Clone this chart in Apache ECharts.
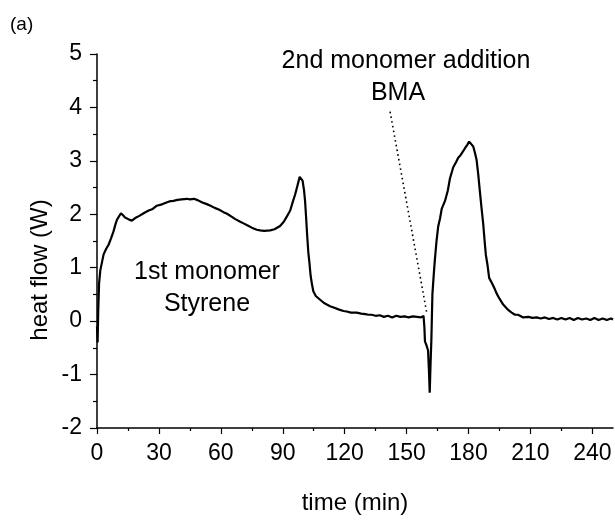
<!DOCTYPE html>
<html>
<head>
<meta charset="utf-8">
<script src="https://cdn.jsdelivr.net/npm/echarts@6/dist/echarts.min.js"></script>
<style>
  html, body { margin: 0; padding: 0; background: #fff; }
  #chart { width: 615px; height: 520px; }
</style>
</head>
<body>
<div id="chart"></div>
<script>
// heat flow trace (time in min, heat flow in W)
const time = [
  0, 0.3, 0.6, 1.0, 1.6, 2.4, 3.2, 4.4, 5.6, 6.8, 8.0, 9.0, 9.7, 10.6, 11.6, 12.6, 13.6, 14.5, 15.6, 16.9,
  18.5, 20.5, 22.6, 25, 27, 29, 31, 33, 35, 37, 39, 41, 43.6, 45, 47, 49, 51, 53.2, 55, 57,
  59, 61.3, 63, 65, 67, 69.4, 71, 73, 75, 77.4, 79, 81, 83.9, 86, 88.7, 90.5, 92, 93.6, 95, 96,
  97.2, 98.2, 98.8, 99.6, 100.3, 100.8, 101.3, 101.8, 102.4, 102.9, 103.5, 104.2, 104.8, 106, 108.1, 110, 112.9, 115, 117, 119.4,
  121, 123, 125.8, 128, 130, 131.5, 133, 135, 137, 139, 141, 143, 145, 147, 149, 151, 153, 155, 157, 158.2,
  158.6, 158.9, 159.6, 160.4, 160.9, 161.2, 161.6, 162.0, 162.5, 163.2, 163.7, 164.5, 165.3, 166.2, 167, 168.6, 170, 171, 172, 172.6,
  174, 175, 176, 177.4, 178.5, 179.4, 180.3, 181.2, 182.3, 183.1, 183.9, 184.7, 185.5, 186.3, 187.1, 187.8, 188.4, 189.2, 190, 191.5,
  192.5, 193.6, 195, 196.8, 198, 199.5, 200.9, 202.5, 204, 206.5, 209, 211, 213, 215, 217, 219, 221, 223, 225, 227,
  229, 231, 233, 235, 237, 239, 241, 243, 245, 247, 249, 250
];
const heatFlow = [
  -0.1, -0.4, 0.2, 0.7, 0.95, 1.1, 1.25, 1.35, 1.43, 1.55, 1.68, 1.82, 1.9, 1.92, 2.02, 1.98, 1.94, 1.91, 1.9, 1.88,
  1.93, 1.97, 2.02, 2.07, 2.1, 2.16, 2.18, 2.21, 2.24, 2.25, 2.27, 2.28, 2.29, 2.28, 2.29, 2.26, 2.22, 2.19, 2.16, 2.12,
  2.09, 2.04, 2.01, 1.96, 1.91, 1.86, 1.83, 1.79, 1.75, 1.71, 1.7, 1.69, 1.7, 1.72, 1.78, 1.86, 1.96, 2.07, 2.25, 2.37,
  2.55, 2.7, 2.71, 2.63, 2.45, 2.25, 1.95, 1.62, 1.28, 1.1, 0.85, 0.68, 0.56, 0.47, 0.4, 0.34, 0.28, 0.25, 0.22, 0.19,
  0.18, 0.16, 0.16, 0.14, 0.13, 0.12, 0.12, 0.1, 0.11, 0.08, 0.1, 0.07, 0.1, 0.08, 0.09, 0.07, 0.09, 0.08, 0.07, 0.1,
  -0.1, -0.38, -0.45, -0.55, -1.0, -1.34, -0.8, -0.35, 0.5, 0.9, 1.15, 1.5, 1.77, 1.92, 2.1, 2.25, 2.45, 2.67, 2.8, 2.88,
  2.98, 3.06, 3.1, 3.18, 3.25, 3.3, 3.36, 3.34, 3.27, 3.15, 3.02, 2.75, 2.43, 2.12, 1.83, 1.5, 1.24, 1.05, 0.81, 0.7,
  0.62, 0.52, 0.42, 0.31, 0.26, 0.2, 0.16, 0.12, 0.12, 0.07, 0.08, 0.06, 0.07, 0.05, 0.07, 0.04, 0.06, 0.03, 0.06, 0.03,
  0.06, 0.02, 0.06, 0.03, 0.05, 0.02, 0.06, 0.02, 0.05, 0.02, 0.05, 0.03
];

// dotted leader from the "BMA" label down to the addition point
const leaderTime = [142, 159.7];
const leaderFlow = [3.92, 0.17];

const xMajor = [0, 30, 60, 90, 120, 150, 180, 210, 240];
const xMinor = [15, 45, 75, 105, 135, 165, 195, 225];
const yMajor = [-2, -1, 0, 1, 2, 3, 4, 5];
const yMinor = [-1.5, -0.5, 0.5, 1.5, 2.5, 3.5, 4.5];

const font = '"Liberation Sans", Arial, sans-serif';
const chart = echarts.init(document.getElementById('chart'));

const baseX = {
  type: 'value',
  min: 0,
  max: 250,
  position: 'bottom',
  splitLine: {show: false}
};
const baseY = {
  type: 'value',
  min: -2,
  max: 5,
  position: 'left',
  splitLine: {show: false}
};

const option = {
  animation: false,
  grid: {left: 97, top: 54, right: 2, bottom: 77},
  xAxis: [
    {
      ...baseX,
      interval: 30,
      axisLine: {onZero: false, lineStyle: {color: '#000', width: 1.5}},
      axisTick: {customValues: xMajor, length: 6, lineStyle: {color: '#000', width: 1.2}},
      axisLabel: {customValues: xMajor, margin: 14, color: '#000', fontSize: 23, fontFamily: font},
      name: 'time (min)',
      nameLocation: 'middle',
      nameGap: 63,
      nameTextStyle: {color: '#000', fontSize: 24, fontFamily: font}
    },
    {
      ...baseX,
      axisLine: {show: false, onZero: false},
      axisTick: {customValues: xMinor, length: 3, lineStyle: {color: '#000', width: 1.2}},
      axisLabel: {show: false}
    }
  ],
  yAxis: [
    {
      ...baseY,
      interval: 1,
      axisLine: {onZero: false, lineStyle: {color: '#000', width: 1.5}},
      axisTick: {customValues: yMajor, length: 7, lineStyle: {color: '#000', width: 1.2}},
      axisLabel: {customValues: yMajor, margin: 15, color: '#000', fontSize: 23, fontFamily: font}
    },
    {
      ...baseY,
      axisLine: {show: false, onZero: false},
      axisTick: {customValues: yMinor, length: 4, lineStyle: {color: '#000', width: 1.2}},
      axisLabel: {show: false}
    }
  ],
  series: [
    {
      type: 'line',
      data: time.map((t, i) => [t, heatFlow[i]]),
      showSymbol: false,
      lineStyle: {color: '#000', width: 2.2},
      clip: true
    },
    {
      type: 'line',
      data: leaderTime.map((t, i) => [t, leaderFlow[i]]),
      showSymbol: false,
      lineStyle: {color: '#000', width: 1.6, type: [1.6, 3.2]}
    }
  ],
  graphic: [
    {type: 'text', left: 10, top: 15, style: {text: '(a)', fontSize: 19, fontFamily: font, fill: '#000'}},
    {
      type: 'text', x: 40, y: 270, rotation: Math.PI / 2,
      style: {text: 'heat flow (W)', fontSize: 24, fontFamily: font, fill: '#000', align: 'center', verticalAlign: 'middle'}
    },
    {
      type: 'text', x: 207, y: 272,
      style: {text: '1st monomer', fontSize: 25, fontFamily: font, fill: '#000', align: 'center', verticalAlign: 'middle'}
    },
    {
      type: 'text', x: 207, y: 304,
      style: {text: 'Styrene', fontSize: 25, fontFamily: font, fill: '#000', align: 'center', verticalAlign: 'middle'}
    },
    {
      type: 'text', x: 406, y: 61,
      style: {text: '2nd monomer addition', fontSize: 25, fontFamily: font, fill: '#000', align: 'center', verticalAlign: 'middle'}
    },
    {
      type: 'text', x: 398, y: 93,
      style: {text: 'BMA', fontSize: 25, fontFamily: font, fill: '#000', align: 'center', verticalAlign: 'middle'}
    }
  ]
};

chart.setOption(option);
</script>
</body>
</html>
